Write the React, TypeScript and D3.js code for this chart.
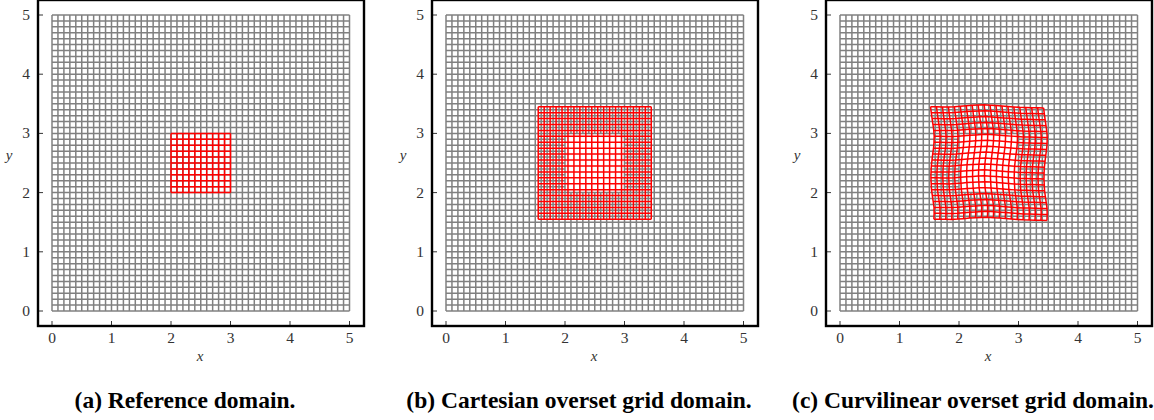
import React from "react";
import * as d3 from "d3";

const tickValues = [0, 1, 2, 3, 4, 5];
const captions = ["(a) Reference domain.", "(b) Cartesian overset grid domain.", "(c) Curvilinear overset grid domain."];
const backgroundLines = d3.range(51).map((i) => i / 10);
const referenceLines = d3.range(11).map((i) => 2 + i / 10);
const oversetLines = d3.range(20).map((i) => 1.55 + i / 10);
const holeRange = [2, 3];
// Sideways shift of the curvilinear vertical lines, one value per row (bottom to top)
const shiftXByRow = [0.028, 0.032, 0.03, 0.016, 0.002, -0.012, -0.017, -0.022, -0.02, -0.015, -0.004, 0.008, 0.022, 0.03, 0.033, 0.026, 0.012, -0.002, -0.016, -0.028];
// Vertical shift of the curvilinear horizontal lines, one value per column (left to right)
const shiftYByCol = [0, 0, -0.002, -0.003, 0.002, 0.01, 0.019, 0.024, 0.03, 0.034, 0.027, 0.02, 0.012, 0.004, -0.004, -0.01, -0.012, -0.015, -0.018, -0.02];

const panelLefts = [38, 432, 826];
const W = 326;
const TOP = 0;
const BOTTOM = 326;
const GRAY = "#808080";
const serif = "'Liberation Serif', serif";

function Panel({ left, index }: { left: number; index: number }) {
  const x = d3.scaleLinear().domain([0, 5]).range([left + 14, left + 311.5]);
  const y = d3.scaleLinear().domain([0, 5]).range([311, 15]);
  const line = d3.line<[number, number]>().x((d) => x(d[0])).y((d) => y(d[1]));
  const gridPaths = (xs: number[], ys: number[]) => {
    const out: string[] = [];
    xs.forEach((v) => out.push(line(ys.map((u) => [v, u] as [number, number]))!));
    ys.forEach((u) => out.push(line(xs.map((v) => [v, u] as [number, number]))!));
    return out;
  };
  // Background lines with the blanked-out hole of the overset panels
  const backgroundPaths = () => {
    if (index === 0) return gridPaths(backgroundLines, backgroundLines);
    const [a, b] = holeRange;
    const inside = (v: number) => v > a + 1e-6 && v < b - 1e-6;
    const out: string[] = [];
    backgroundLines.forEach((v) => {
      if (inside(v)) {
        out.push(line([[v, 0], [v, a]])!, line([[v, b], [v, 5]])!);
        out.push(line([[0, v], [a, v]])!, line([[b, v], [5, v]])!);
      } else {
        out.push(line([[v, 0], [v, 5]])!, line([[0, v], [5, v]])!);
      }
    });
    return out;
  };
  const curvPaths = () => {
    const out: string[] = [];
    oversetLines.forEach((v, c) =>
      out.push(line(oversetLines.map((u, r) => [v + shiftXByRow[r], u + shiftYByCol[c]] as [number, number]))!)
    );
    oversetLines.forEach((u, r) =>
      out.push(line(oversetLines.map((v, c) => [v + shiftXByRow[r], u + shiftYByCol[c]] as [number, number]))!)
    );
    return out;
  };
  const red = index === 0 ? gridPaths(referenceLines, referenceLines) : index === 1 ? gridPaths(oversetLines, oversetLines) : curvPaths();
  return (
    <g>
      <g fill="none" stroke={GRAY} strokeWidth={1.5}>
        {backgroundPaths().map((d, i) => <path key={i} d={d} />)}
      </g>
      <g fill="none" stroke="#ff0000" strokeWidth={1.5}>
        {red.map((d, i) => <path key={i} d={d} />)}
      </g>
      <rect x={left} y={TOP} width={W} height={BOTTOM - TOP} fill="none" stroke="#000" strokeWidth={2.4} />
      {tickValues.map((t) => (
        <g key={t} fontFamily={serif} fontSize={15.5} fill="#333">
          <line x1={x(t)} x2={x(t)} y1={BOTTOM} y2={BOTTOM - 5} stroke="#000" strokeWidth={0.8} />
          <line x1={left} x2={left + 5} y1={y(t)} y2={y(t)} stroke="#000" strokeWidth={0.8} />
          <text x={x(t)} y={342.5} textAnchor="middle">{t}</text>
          <text x={left - 8} y={y(t) + 5} textAnchor="end">{t}</text>
        </g>
      ))}
      <text x={left + 162} y={361} textAnchor="middle" fontFamily={serif} fontStyle="italic" fontSize={15} fill="#333">x</text>
      <text x={left - 29} y={160} textAnchor="middle" fontFamily={serif} fontStyle="italic" fontSize={15} fill="#333">y</text>
      <text x={left + 147} y={408} textAnchor="middle" fontFamily={serif} fontWeight="bold" fontSize={23.5} fill="#000">{captions[index]}</text>
    </g>
  );
}

export default function App() {
  return (
    <svg width={1154} height={420} style={{ position: "absolute", left: 0, top: 0, background: "#fff" }}>
      {panelLefts.map((l, i) => <Panel key={i} left={l} index={i} />)}
    </svg>
  );
}
